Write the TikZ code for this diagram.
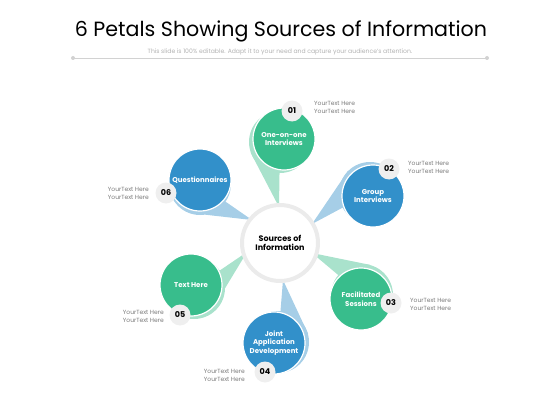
\documentclass[tikz,border=0pt]{standalone}
\usepackage{fontspec}
\setmainfont{Poppins}
\usetikzlibrary{calc}
\definecolor{petgreen}{HTML}{38BD8C}
\definecolor{petgreenlt}{HTML}{A9E2CC}
\definecolor{petblue}{HTML}{3290CA}
\definecolor{petbluelt}{HTML}{A6CEE7}
\definecolor{badgegray}{HTML}{EFEFEF}
\definecolor{ringgray}{HTML}{EBEBEB}
\definecolor{notegray}{HTML}{7A7A7A}

\begin{document}
\begin{tikzpicture}[
    x=1pt, y=-1pt,
    petal/.style={circle, draw=white, line width=1.2pt, minimum size=62pt, inner sep=0pt,
        text=white, align=center, font=\fontsize{7}{8.5}\selectfont\bfseries},
    petalshade/.style={circle, minimum size=62pt, inner sep=0pt},
    badge/.style={circle, fill=badgegray, minimum size=21pt, inner sep=0pt,
        font=\fontsize{8}{8}\selectfont\bfseries},
    note/.style={inner sep=0pt, text=notegray, font=\fontsize{6}{8}\selectfont},
]
\useasboundingbox (0,0) rectangle (560,420);
% heading
\node (title) at (281,31) {\fontsize{20.6}{22}\selectfont 6 Petals Showing Sources of Information};
\node[text=gray!60, font=\fontsize{6.1}{7}\selectfont] (sub) at (280,52)
   {This slide is 100\% editable. Adapt it to your need and capture your audience's attention.};
\coordinate (ruleL) at (73,58);
\coordinate (ruleR) at (487,58);
\draw[gray!35, line width=0.8pt] (ruleL) -- (ruleR);
\fill[gray!35] (ruleL) circle (2pt) (ruleR) circle (2pt);
% tips of the petals, under the ring
\coordinate (tip1) at (279,207);
\coordinate (tip2) at (312,224);
\coordinate (tip3) at (312,253);
\coordinate (tip4) at (283,280);
\coordinate (tip5) at (247,252);
\coordinate (tip6) at (252,220);
% light shades with their tails
\node[petalshade, fill=petgreenlt] (s1) at (280,142) {};
\node[petalshade, fill=petbluelt]  (s2) at (370,193) {};
\node[petalshade, fill=petgreenlt] (s3) at (362,295) {};
\node[petalshade, fill=petbluelt]  (s4) at (278,342) {};
\node[petalshade, fill=petgreenlt] (s5) at (194,288) {};
\node[petalshade, fill=petbluelt]  (s6) at (200,184) {};
\foreach \i/\lt/\ang in {1/petgreenlt/200, 2/petbluelt/135, 3/petgreenlt/75,
                         4/petbluelt/15, 5/petgreenlt/0, 6/petbluelt/280} {
  \fill[\lt] (tip\i) -- (s\i.\ang) -- (s\i.center) -- cycle;
}
% centre
\node[circle, draw=ringgray, line width=4pt, fill=white, minimum size=76pt, align=center,
      font=\fontsize{8}{9.5}\selectfont\bfseries] (src) at (280,243) {Sources of\\Information};
% petals
\node[petal, fill=petgreen] (p1) at (284,139) {One-on-one\\Interviews};
\node[petal, fill=petblue]  (p2) at (373,196) {Group\\Interviews};
\node[petal, fill=petgreen] (p3) at (361,299) {Facilitated\\Sessions};
\node[petal, fill=petblue]  (p4) at (274,343) {Joint\\Application\\Development};
\node[petal, fill=petgreen] (p5) at (191,285) {Text Here};
\node[petal, fill=petblue]  (p6) at (200,180) {Questionnaires};
% number badges
\node[badge] (b1) at (292,111) {01};
\node[badge] (b2) at (389,169) {02};
\node[badge] (b3) at (391,303) {03};
\node[badge] (b4) at (265,372) {04};
\node[badge] (b5) at (180,315) {05};
\node[badge] (b6) at (166,193) {06};
% notes
\node[note, anchor=west, align=left]  (n1) at (314,107) {YourText Here\\YourText Here};
\node[note, anchor=west, align=left]  (n2) at (408,167) {YourText Here\\YourText Here};
\node[note, anchor=west, align=left]  (n3) at (410,304) {YourText Here\\YourText Here};
\node[note, anchor=east, align=right] (n4) at (245,375) {YourText Here\\YourText Here};
\node[note, anchor=east, align=right] (n5) at (164,316) {YourText Here\\YourText Here};
\node[note, anchor=east, align=right] (n6) at (149,193) {YourText Here\\YourText Here};
\end{tikzpicture}
\end{document}
